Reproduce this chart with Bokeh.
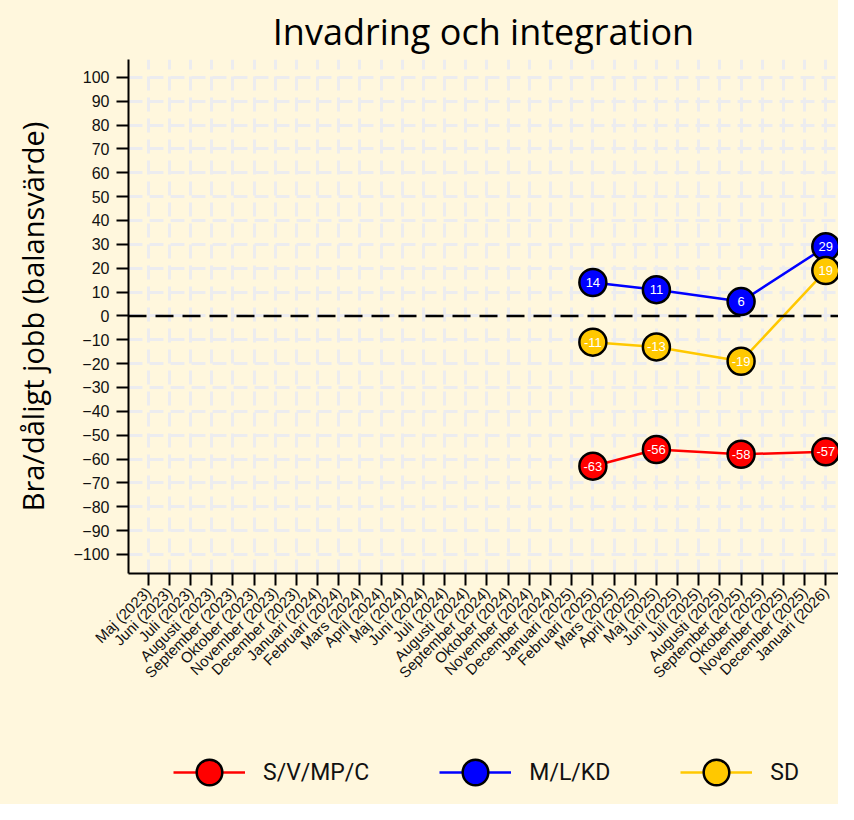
import math
from bokeh.plotting import figure
from bokeh.layouts import column
from bokeh.models import (FixedTicker, Span, Legend, LegendItem, ColumnDataSource, Range1d)
from bokeh.core.properties import value
from bokeh.embed import file_html
from bokeh.resources import INLINE

months = ["Maj (2023)", "Juni (2023)", "Juli (2023)", "Augusti (2023)", "September (2023)",
          "Oktober (2023)", "November (2023)", "December (2023)", "Januari (2024)",
          "Februari (2024)", "Mars (2024)", "April (2024)", "Maj (2024)", "Juni (2024)",
          "Juli (2024)", "Augusti (2024)", "September (2024)", "Oktober (2024)",
          "November (2024)", "December (2024)", "Januari (2025)", "Februari (2025)",
          "Mars (2025)", "April (2025)", "Maj (2025)", "Juni (2025)", "Juli (2025)",
          "Augusti (2025)", "September (2025)", "Oktober (2025)", "November (2025)",
          "December (2025)", "Januari (2026)"]

survey_months = ["Februari (2025)", "Maj (2025)", "September (2025)", "Januari (2026)"]
s_v_mp_c = [-63, -56, -58, -57]
m_l_kd = [14, 11, 6, 29]
sd = [-11, -13, -19, 19]

series_names = ["S/V/MP/C", "M/L/KD", "SD"]
series_values = [s_v_mp_c, m_l_kd, sd]
series_colors = ["#FF0000", "#0000FF", "#FFC800"]

y_ticks = list(range(-100, 101, 10))

BG = "#FFF7DD"

p = figure(width=838, height=740, output_backend="svg", toolbar_location=None,
           x_range=Range1d(-0.93, 32.6), y_range=Range1d(-108, 107.5),
           background_fill_color=BG, border_fill_color=BG,
           min_border_left=128, min_border_right=0, min_border_top=57,
           min_border_bottom=167)
p.outline_line_color = None

p.title.text = "Invadring och integration"
p.title.align = "center"
p.title.text_font = "Open Sans"
p.title.text_font_size = "36px"
p.title.text_font_style = "normal"
p.title.text_color = "#000000"
p.title.standoff = 8

# grid
for g in (p.xgrid, p.ygrid):
    g.grid_line_color = "#ECECEF"
    g.grid_line_width = 3
    g.grid_line_dash = "14 7"
p.xgrid.ticker = FixedTicker(ticks=list(range(len(months))))
p.ygrid.ticker = FixedTicker(ticks=y_ticks)

# axes
p.xaxis.ticker = FixedTicker(ticks=list(range(len(months))))
p.xaxis.major_label_overrides = {i: m for i, m in enumerate(months)}
p.xaxis.major_label_orientation = math.pi / 4
p.yaxis.ticker = FixedTicker(ticks=y_ticks)
for ax in (p.xaxis, p.yaxis):
    ax.axis_line_color = "black"
    ax.axis_line_width = 2
    ax.major_tick_line_color = "black"
    ax.major_tick_line_width = 2
    ax.major_tick_in = 0
    ax.minor_tick_line_color = None
    ax.major_label_text_font = "Liberation Sans"
    ax.major_label_text_color = "#111111"
p.xaxis.major_tick_out = 12
p.yaxis.major_tick_out = 12
p.xaxis.major_label_text_font_size = "15px"
p.yaxis.major_label_text_font_size = "16px"
p.xaxis.major_label_standoff = 4
p.yaxis.major_label_standoff = 7

p.yaxis.axis_label = "Bra/dåligt jobb (balansvärde)"
p.yaxis.axis_label_text_font = "Open Sans"
p.yaxis.axis_label_text_font_size = "29px"
p.yaxis.axis_label_text_font_style = "normal"
p.yaxis.axis_label_text_color = "#000000"
p.yaxis.axis_label_standoff = 18

zero = Span(location=0, dimension="width", line_color="black", line_width=2.5,
            line_dash="18 9")
p.add_layout(zero)

for name, vals, col in zip(series_names, series_values, series_colors):
    xs = [months.index(m) for m in survey_months]
    src = ColumnDataSource(dict(x=xs, y=vals, lab=[str(v) for v in vals]))
    p.line("x", "y", source=src, line_color=col, line_width=2.5)
    p.scatter("x", "y", source=src, marker="circle", size=27, fill_color=col,
              line_color="black", line_width=2.5)
    p.text("x", "y", text="lab", source=src, text_color="white",
           text_font=value("Liberation Sans"), text_font_size="13px",
           text_align="center", text_baseline="middle")

# legend strip below the chart (proxy renderers hold a single NaN point)
lg = figure(width=838, height=64, output_backend="svg", toolbar_location=None,
            x_range=Range1d(0, 1), y_range=Range1d(0, 1),
            background_fill_color=BG, border_fill_color=BG,
            min_border_left=128, min_border_right=0, min_border_top=0,
            min_border_bottom=0)
lg.outline_line_color = None
lg.axis.visible = False
lg.grid.visible = False

items = []
for name, col in zip(series_names, series_colors):
    proxy = ColumnDataSource(dict(x=[float("nan")], y=[float("nan")]))
    ln = lg.line("x", "y", source=proxy, line_color=col, line_width=2.5)
    sc = lg.scatter("x", "y", source=proxy, marker="circle", fill_color=col,
                    line_color="black", line_width=2.5)
    items.append(LegendItem(label=name, renderers=[ln, sc]))

legend = Legend(items=items, orientation="horizontal", location=(45, 0),
                glyph_width=72, glyph_height=64, label_standoff=18, spacing=70,
                padding=0, margin=0, border_line_color=None,
                background_fill_alpha=0, label_text_font="Roboto",
                label_text_font_size="23px", label_text_color="#111111")
lg.add_layout(legend, "center")

layout = column(p, lg, spacing=0, styles={"background-color": BG})
open("out.html", "w").write(file_html(layout, INLINE))
